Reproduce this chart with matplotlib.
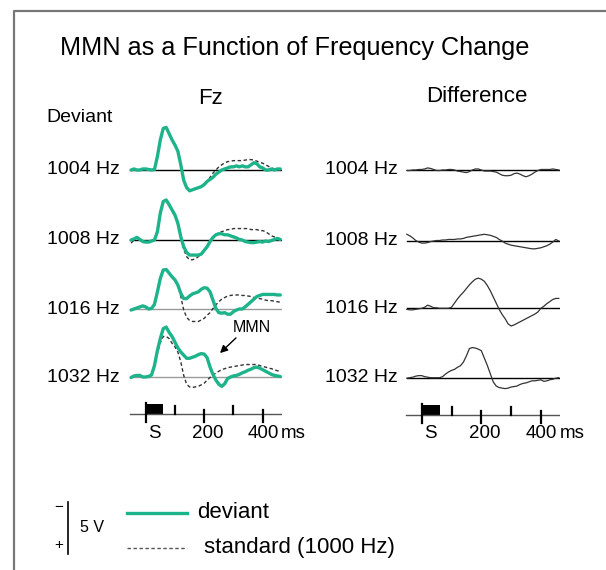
import numpy as np
import matplotlib
matplotlib.use("Agg")
import matplotlib.pyplot as plt
from matplotlib.patches import Rectangle

plt.rcParams['font.family'] = ['Liberation Sans', 'DejaVu Sans']

# time base of the averaged ERPs (ms after stimulus onset)
t_ms = np.arange(-50, 461, 10)

rows = ["1004 Hz", "1008 Hz", "1016 Hz", "1032 Hz"]

# Fz averages in microvolts (negative = up)
dev_1004 = [0.0, -0.1, 0.0, 0.0, -0.1, -0.1, -0.05, 0.0, -0.05, -1.3,
            -2.9, -4.0, -4.1, -3.5, -2.9, -2.4, -1.8, -0.5, 1.0, 1.7,
            2.0, 1.9, 1.8, 1.7, 1.6, 1.4, 1.1, 0.9, 0.7, 0.4,
            0.2, 0.0, -0.1, -0.2, -0.3, -0.3, -0.4, -0.3, -0.4, -0.3,
            -0.3, -0.5, -0.7, -0.6, -0.3, -0.2, 0.0, 0.0, -0.1, 0.0,
            -0.1, -0.1]
std_1004 = [0.0, -0.1, 0.0, 0.0, -0.1, -0.1, -0.05, 0.0, -0.05, -1.3,
            -2.9, -4.0, -4.1, -3.5, -2.9, -2.4, -1.8, -0.5, 1.0, 1.7,
            2.0, 1.9, 1.8, 1.7, 1.6, 1.4, 1.1, 0.7, 0.3, 0.0,
            -0.3, -0.5, -0.7, -0.8, -0.85, -0.9, -0.9, -0.9, -0.9, -0.95,
            -1.0, -1.0, -0.95, -0.85, -0.75, -0.65, -0.5, -0.35, -0.2, -0.1,
            0.0, 0.0]
dev_1008 = [0.0, -0.1, -0.25, -0.05, 0.15, 0.2, 0.2, 0.1, 0.0, -0.8,
            -2.6, -3.7, -3.85, -3.4, -2.9, -2.4, -1.6, -0.3, 0.65, 1.2,
            1.45, 1.45, 1.45, 1.45, 1.35, 1.0, 0.65, 0.15, -0.25, -0.5,
            -0.6, -0.6, -0.5, -0.5, -0.4, -0.3, -0.2, -0.05, 0.0, 0.15,
            0.2, 0.25, 0.25, 0.2, 0.15, 0.2, 0.1, 0.15, 0.05, -0.05,
            -0.15, -0.05]
std_1008 = [0.3, 0.0, -0.3, -0.1, 0.15, 0.2, 0.2, 0.1, 0.0, -0.8,
            -2.6, -3.7, -3.85, -3.4, -2.9, -2.4, -1.5, -0.2, 0.9, 1.6,
            1.9, 1.9, 1.8, 1.6, 1.4, 1.0, 0.6, 0.2, -0.2, -0.5,
            -0.7, -0.8, -0.9, -1.0, -1.0, -1.1, -1.1, -1.1, -1.1, -1.1,
            -1.1, -1.0, -1.0, -1.0, -0.9, -0.9, -0.8, -0.6, -0.4, -0.3,
            -0.2, -0.1]
dev_1016 = [0.1, 0.0, -0.1, -0.2, -0.3, -0.2, 0.0, -0.05, -0.45, -1.65,
            -2.95, -3.75, -3.8, -3.45, -3.1, -2.8, -2.3, -1.5, -1.0, -1.0,
            -1.25, -1.45, -1.55, -1.65, -1.9, -2.05, -2.0, -1.65, -0.85, -0.05,
            0.35, 0.4, 0.35, 0.5, 0.5, 0.25, 0.1, 0.0, 0.0, -0.2,
            -0.45, -0.7, -0.95, -1.2, -1.3, -1.4, -1.4, -1.4, -1.4, -1.4,
            -1.35, -1.35]
std_1016 = [0.1, 0.0, -0.1, -0.2, -0.3, -0.2, 0.0, -0.05, -0.45, -1.65,
            -2.95, -3.75, -3.8, -3.45, -3.1, -2.8, -2.3, -1.2, 0.1, 0.8,
            1.1, 1.2, 1.2, 1.2, 1.05, 0.9, 0.6, 0.35, -0.05, -0.4,
            -0.7, -0.95, -1.1, -1.25, -1.3, -1.35, -1.35, -1.35, -1.3, -1.3,
            -1.25, -1.2, -1.1, -1.0, -1.0, -0.95, -0.85, -0.8, -0.8, -0.75,
            -0.7, -0.65]
dev_1032 = [0.05, -0.1, -0.15, -0.15, 0.0, 0.0, -0.05, -0.2, -1.1, -2.55,
            -3.7, -4.65, -4.8, -4.3, -3.9, -3.35, -2.8, -2.4, -2.1, -1.8,
            -1.8, -1.9, -2.0, -2.15, -2.25, -2.2, -1.85, -0.95, -0.25, 0.3,
            0.7, 0.9, 0.65, 0.15, 0.0, -0.1, -0.15, -0.25, -0.4, -0.5,
            -0.65, -0.75, -0.9, -0.95, -0.85, -0.7, -0.55, -0.4, -0.25, -0.15,
            -0.1, -0.05]
std_1032 = [0.05, -0.1, -0.15, -0.15, 0.0, 0.0, -0.05, -0.2, -1.0, -2.3,
            -3.3, -3.9, -3.9, -3.7, -3.25, -2.9, -2.4, -1.45, -0.15, 0.7,
            0.95, 1.0, 0.95, 0.9, 0.75, 0.6, 0.3, 0.05, -0.15, -0.4,
            -0.55, -0.7, -0.8, -0.9, -0.95, -1.0, -1.05, -1.1, -1.15, -1.2,
            -1.2, -1.2, -1.2, -1.2, -1.1, -1.0, -0.95, -0.85, -0.8, -0.7,
            -0.6, -0.55]

# deviant minus standard
diff_1004 = [0.05, 0.05, 0.0, 0.0, -0.05, -0.05, -0.1, -0.2, -0.15, -0.05,
             0.05, 0.05, 0.0, 0.0, -0.05, -0.05, 0.0, 0.1, 0.15, 0.2,
             0.25, 0.15, 0.0, -0.1, -0.1, 0.0, 0.1, 0.1, 0.1, 0.15,
             0.2, 0.35, 0.5, 0.55, 0.55, 0.5, 0.35, 0.3, 0.4, 0.55,
             0.65, 0.55, 0.4, 0.2, 0.05, -0.05, -0.05, -0.05, -0.05, -0.1,
             -0.05, 0.0]
diff_1008 = [-0.6, -0.45, -0.25, 0.0, 0.15, 0.25, 0.25, 0.2, 0.1, 0.05,
             0.0, 0.0, -0.05, -0.05, -0.1, -0.1, -0.1, -0.15, -0.15, -0.2,
             -0.3, -0.35, -0.4, -0.45, -0.5, -0.55, -0.6, -0.55, -0.5, -0.4,
             -0.3, -0.1, 0.05, 0.25, 0.35, 0.45, 0.5, 0.55, 0.6, 0.65,
             0.7, 0.75, 0.8, 0.8, 0.75, 0.7, 0.6, 0.5, 0.35, 0.15,
             -0.1, 0.05]
diff_1016 = [0.1, 0.15, 0.15, 0.1, 0.05, 0.0, -0.1, -0.3, -0.2, -0.05,
             -0.05, 0.0, 0.0, 0.0, 0.0, -0.1, -0.5, -0.9, -1.25, -1.55,
             -1.9, -2.25, -2.55, -2.8, -2.9, -2.8, -2.6, -2.2, -1.7, -1.1,
             -0.5, 0.1, 0.6, 1.0, 1.5, 1.7, 1.6, 1.45, 1.3, 1.15,
             1.0, 0.85, 0.7, 0.55, 0.35, 0.0, -0.2, -0.45, -0.65, -0.85,
             -0.95, -0.95]
diff_1032 = [0.05, 0.0, -0.05, -0.15, -0.2, -0.2, -0.1, -0.05, 0.0, 0.0,
             0.0, 0.0, -0.1, -0.35, -0.55, -0.7, -0.8, -1.0, -1.15, -1.5,
             -2.1, -2.8, -2.9, -2.85, -2.75, -2.6, -1.9, -1.2, -0.4, 0.4,
             0.8, 0.95, 1.0, 1.05, 1.0, 0.9, 0.85, 0.8, 0.65, 0.55,
             0.5, 0.4, 0.3, 0.3, 0.25, 0.2, 0.35, 0.3, 0.2, 0.15,
             0.05, 0.0]

deviant = [dev_1004, dev_1008, dev_1016, dev_1032]
standard = [std_1004, std_1008, std_1016, std_1032]
difference = [diff_1004, diff_1008, diff_1016, diff_1032]

W, H = 606, 570
PX_UV = 10.4          # pixels per microvolt
PX_MS_L = 0.2925      # pixels per ms, Fz column
PX_MS_R = 0.298       # pixels per ms, difference column
T0, T1 = -60, 465
GREEN = '#1db38b'

fig = plt.figure(figsize=(W / 100, H / 100), dpi=100)


def px_axes(x0, y0, w, h):
    ax = fig.add_axes([x0 / W, 1 - (y0 + h) / H, w / W, h / H])
    ax.set_axis_off()
    return ax


def trace_axes(zero_x, px_ms, baseline):
    ax = px_axes(zero_x + T0 * px_ms, baseline - 60, (T1 - T0) * px_ms, 100)
    ax.set_xlim(T0, T1)
    ax.set_ylim(40 / PX_UV, -60 / PX_UV)
    return ax


def time_axis(zero_x, px_ms, y):
    ax = px_axes(zero_x + T0 * px_ms, y - 20, (T1 - T0) * px_ms, 40)
    ax.set_xlim(T0, T1)
    ax.set_ylim(20, -20)
    ax.plot([-52, 465], [0, 0], color='#555555', lw=1.0)
    ax.add_patch(Rectangle((0, -10), 60, 10, color='black', lw=0))
    ax.plot([0, 0], [-11, 7.5], color='black', lw=1.6)
    for t in (200, 400):
        ax.plot([t, t], [-4, 7.5], color='black', lw=1.6)
    for t in (100, 300):
        ax.plot([t, t], [-8, 0], color='black', lw=1.6)
    kw = dict(fontsize=13.5, ha='center', va='center', clip_on=False)
    ax.text(30, 19, "S", **kw)
    ax.text(212, 19, "200", **kw)
    ax.text(402, 19, "400", **kw)
    ax.text(402 + 18 / px_ms, 19, "ms", fontsize=13.5, ha='left',
            va='center', clip_on=False)


# overlay in pixel units for text, frame and legend
ov = px_axes(0, 0, W, H)
ov.set_xlim(0, W)
ov.set_ylim(H, 0)
ov.plot([13.5, 13.5, W + 5], [H + 5, 10.5, 10.5], color='#777777', lw=1.6,
        clip_on=False)

ov.text(295, 48, "MMN as a Function of Frequency Change", fontsize=18.2,
        ha='center', va='center')
ov.text(210, 98, "Fz", fontsize=16, ha='center', va='center')
ov.text(477, 96, "Difference", fontsize=16, ha='center', va='center')
ov.text(46, 117, "Deviant", fontsize=14, ha='left', va='center')

base_l = [170, 240, 309, 377]
base_r = [170, 240.5, 308.3, 377.7]

for i, name in enumerate(rows):
    ov.text(120, base_l[i], name, fontsize=14, ha='right', va='center')
    ov.text(398, base_r[i], name, fontsize=14, ha='right', va='center')

    ax = trace_axes(145.7, PX_MS_L, base_l[i])
    base_col = 'black' if i < 2 else '#9a9a9a'
    ax.plot([-53, 465], [0, 0], color=base_col, lw=1.0)
    ax.plot(t_ms, standard[i], color='#333333', lw=1.0,
            linestyle=(0, (2.5, 1.8)))
    ax.plot(t_ms, deviant[i], color=GREEN, lw=2.4, solid_capstyle='round',
            solid_joinstyle='round')

    ax = trace_axes(421.7, PX_MS_R, base_r[i])
    ax.plot([-50, 462], [0, 0], color='black', lw=1.0)
    ax.plot(t_ms, difference[i], color='#333333', lw=0.9)

time_axis(145.7, PX_MS_L, 414.3)
time_axis(421.7, PX_MS_R, 415)

# MMN label with arrow
ov.text(252, 327, "MMN", fontsize=11.5, ha='center', va='center')
ov.annotate("", xy=(218, 355), xytext=(238, 336),
            arrowprops=dict(arrowstyle='-|>', color='black', lw=1.0,
                            mutation_scale=11))

# amplitude scale and legend
ov.plot([68, 68], [502, 554], color='black', lw=1.2)
ov.text(59, 507, "\u2212", fontsize=11, ha='center', va='center')
ov.text(59, 545, "+", fontsize=11, ha='center', va='center')
ov.text(80, 527, "5 V", fontsize=11.5, ha='left', va='center')
ov.plot([127, 187], [513, 513], color=GREEN, lw=2.4)
ov.text(197, 513, "deviant", fontsize=16, ha='left', va='center')
ov.plot([127, 187], [548, 548], color='#555555', lw=1.0,
        linestyle=(0, (2.5, 1.8)))
ov.text(204, 548, "standard (1000 Hz)", fontsize=16, ha='left', va='center')

fig.savefig("out.png", dpi=100, facecolor='white')
